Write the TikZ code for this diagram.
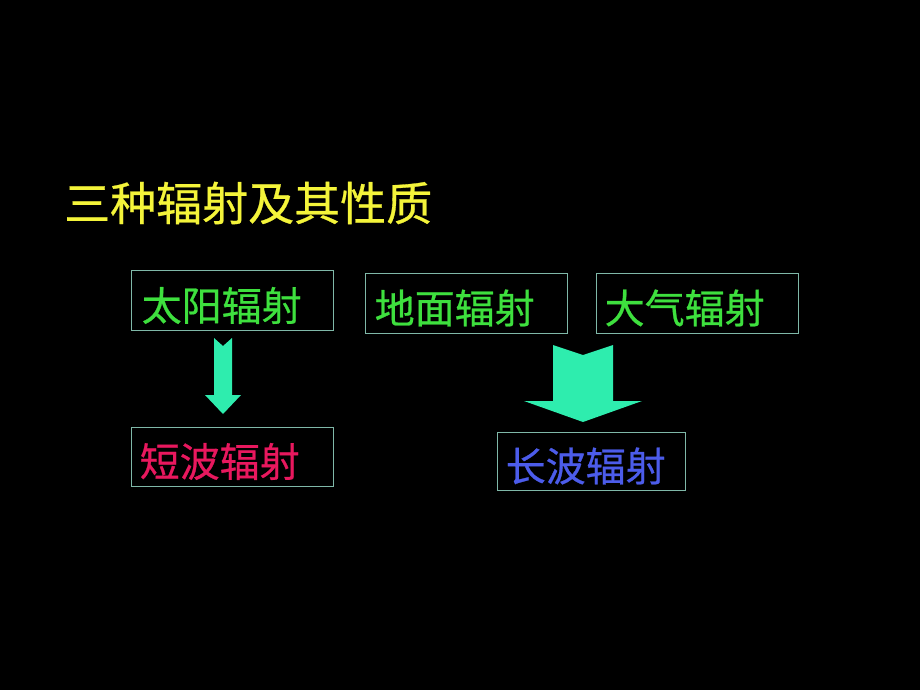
\documentclass[tikz,border=0pt]{standalone}
\usepackage{fontspec}
\newfontfamily\cjk[FakeBold=0.6]{Noto Sans CJK SC}
\definecolor{titleyellow}{HTML}{F4F43A}
\definecolor{txtgreen}{HTML}{3EE03E}
\definecolor{boxline}{HTML}{7FB8A8}
\definecolor{txtred}{HTML}{E8185E}
\definecolor{txtblue}{HTML}{4C5CEA}
\definecolor{arrowfill}{HTML}{2EEDAE}
\begin{document}
\begin{tikzpicture}[x=1pt,y=-1pt,
  box/.style={draw=boxline, line width=1pt, minimum width=202pt, minimum height=60pt, inner sep=0pt},
  lbl/.style={anchor=west, inner sep=0pt, font=\cjk\fontsize{40}{42}\selectfont},
  fatarrow/.style={fill=arrowfill, draw=none}]
\fill[black] (0,0) rectangle (920,690);
\useasboundingbox (0,0) rectangle (920,690);
\node[anchor=west, inner sep=0pt, text=titleyellow, font=\cjk\fontsize{46}{48}\selectfont] (title) at (64,203) {三种辐射及其性质};
\node[box] (sun) at (232,300.5) {};
\node[box] (ground) at (466,303) {};
\node[box] (air) at (697,303) {};
\node[box, minimum height=59pt] (short) at (232,456.5) {};
\node[box, minimum width=188pt, minimum height=58pt] (long) at (591,461) {};
\node[lbl, text=txtgreen] (sunt) at ([xshift=11pt,yshift=-5pt]sun.west) {太阳辐射};
\node[lbl, text=txtgreen] (groundt) at ([xshift=10pt,yshift=-5pt]ground.west) {地面辐射};
\node[lbl, text=txtgreen] (airt) at ([xshift=9pt,yshift=-5pt]air.west) {大气辐射};
\node[lbl, text=txtred] (shortt) at ([xshift=9pt,yshift=-5pt]short.west) {短波辐射};
\node[lbl, text=txtblue] (longt) at ([xshift=9pt,yshift=-5pt]long.west) {长波辐射};
% small notched arrow
\coordinate (a1) at (223,338);
\fill[fatarrow] ([xshift=-9pt]a1) -- ([yshift=-8pt]a1) -- ([xshift=9pt]a1) -- ([xshift=9pt,yshift=-57pt]a1)
  -- ([xshift=18pt,yshift=-57pt]a1) -- ([yshift=-76pt]a1) -- ([xshift=-18pt,yshift=-57pt]a1) -- ([xshift=-9pt,yshift=-57pt]a1) -- cycle;
% big notched arrow
\coordinate (a2) at (583,345);
\fill[fatarrow] ([xshift=-30pt]a2) -- ([yshift=-10pt]a2) -- ([xshift=30pt]a2) -- ([xshift=30pt,yshift=-56pt]a2)
  -- ([xshift=59pt,yshift=-56pt]a2) -- ([yshift=-77pt]a2) -- ([xshift=-59pt,yshift=-56pt]a2) -- ([xshift=-30pt,yshift=-56pt]a2) -- cycle;
\end{tikzpicture}
\end{document}
